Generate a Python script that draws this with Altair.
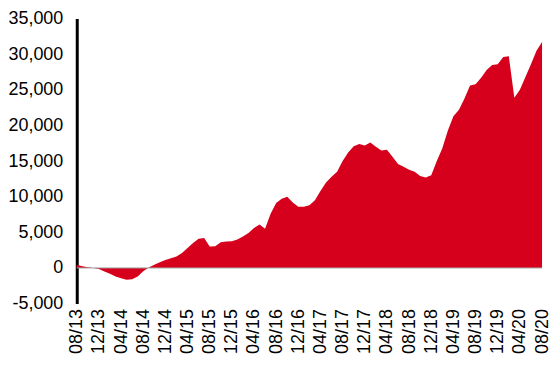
import altair as alt
import pandas as pd

tick_labels = ["08/13", "12/13", "04/14", "08/14", "12/14", "04/15", "08/15", "12/15",
               "04/16", "08/16", "12/16", "04/17", "08/17", "12/17", "04/18", "08/18",
               "12/18", "04/19", "08/19", "12/19", "04/20", "08/20"]

values = [450, 250, 100, 0, -150, -500, -800, -1200, -1450, -1650,
          -1600, -1200, -450, 50, 450, 800, 1100, 1350, 1600, 2100,
          2800, 3500, 4100, 4200, 3000, 3050, 3600, 3700, 3750, 4000,
          4400, 4900, 5600, 6100, 5500, 7600, 9100, 9700, 10000, 9200,
          8600, 8600, 8800, 9500, 10800, 12000, 12800, 13500, 15000, 16200,
          17100, 17400, 17200, 17600, 17000, 16500, 16600, 15600, 14600, 14200,
          13800, 13500, 12900, 12700, 13000, 15000, 16800, 19300, 21300, 22200,
          23800, 25600, 25800, 26700, 27800, 28500, 28600, 29600, 29700, 23900,
          25000, 26800, 28600, 30500, 31700]

df = pd.DataFrame({"i": list(range(len(values))), "v": values})
label_js = "[" + ",".join("'%s'" % t for t in tick_labels) + "]"

FONT = "Liberation Sans"
yscale = alt.Scale(domain=[-5000, 35000], nice=False)

x = alt.X("i:Q",
          scale=alt.Scale(domain=[0, len(values) - 1], nice=False, zero=False),
          axis=alt.Axis(values=list(range(0, len(values), 4)),
                        labelExpr=label_js + "[round(datum.value/4)]",
                        labelAngle=-90, labelAlign="right", labelBaseline="middle",
                        labelFont=FONT, labelFontSize=18, labelColor="black",
                        labelPadding=5, domain=False, ticks=False, grid=False,
                        title=None, labelOverlap=False))
y = alt.Y("v:Q", scale=yscale,
          axis=alt.Axis(values=list(range(-5000, 35001, 5000)),
                        labelExpr="(datum.value < 0 ? '-' : '') + format(abs(datum.value), ',')",
                        labelFont=FONT, labelFontSize=18, labelColor="black",
                        labelPadding=14, domain=True, domainColor="black",
                        domainWidth=3, ticks=False, grid=False, title=None,
                        labelOverlap=False))

area = alt.Chart(df).mark_area(color="#D6001C", interpolate="linear").encode(x=x, y=y)
zero = alt.Chart(pd.DataFrame({"v": [0]})).mark_rule(color="#A0A0A0", strokeWidth=1).encode(
    y=y, x=alt.value(0), x2=alt.value(467))

chart = alt.layer(area, zero).properties(
    width=467, height=286,
    autosize=alt.AutoSizeParams(type="none"),
    padding={"left": 69, "top": 10, "right": 10, "bottom": 58},
    background="white",
).configure_view(stroke=None)

chart.save("out.html", embed_options={"renderer": "svg", "actions": False})
